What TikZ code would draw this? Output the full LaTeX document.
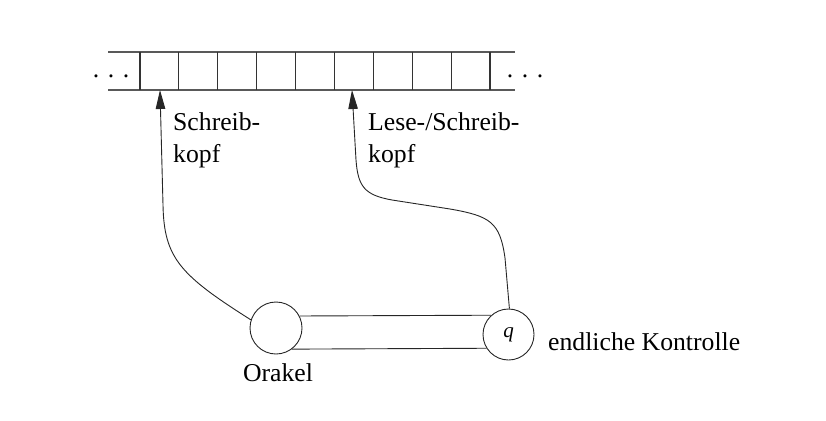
\documentclass[tikz,border=0pt]{standalone}
\usepackage{fontspec}
\setmainfont{Liberation Serif}
\usetikzlibrary{arrows.meta}
\tikzset{
  tapeline/.style={line width=1.1pt, draw=black!65},
  cellline/.style={line width=1.1pt, draw=black!80},
  conn/.style={line width=0.9pt, draw=black!85},
  arr/.style={conn, -{Triangle[length=19pt,width=9.5pt]}},
  state/.style={circle, draw=black!85, line width=0.9pt, inner sep=0pt},
  lbl/.style={font=\fontsize{25.7}{32}\selectfont, inner sep=0pt},
}
\begin{document}
\begin{tikzpicture}[x=1pt,y=-1pt]
\useasboundingbox (0,0) rectangle (826,420);
% tape
\draw[tapeline] (108,52) -- (515,52);
\draw[tapeline] (108,90) -- (515,90);
\foreach \i in {0,...,9} {
  \draw[cellline] ({140+38.89*\i},52) -- ({140+38.89*\i},90);
}
\node[lbl, anchor=base] (dl) at (111,77) {. . .};
\node[lbl, anchor=base] (dr) at (525,77) {. . .};
\coordinate (h1) at (160,90);
\coordinate (h2) at (352,90);
% states
\node[state, minimum size=52pt] (oracle) at (276,328) {};
\node[state, minimum size=51pt, font=\fontsize{21}{25}\selectfont] (ctrl) at (508.5,334.5) {\raisebox{-3pt}{\textit{q}}};
% connections between states
\draw[conn] (oracle.27.5) -- (ctrl.132);
\draw[conn] (oracle.-53.9) -- (ctrl.212);
% arrows to tape
\draw[arr] (oracle.162) .. controls (180,275) and (164,258) .. (163,205) -- (h1);
\draw[arr] (ctrl.88) -- (505,258) .. controls (500,222) and (490,216) .. (450,209) -- (392,200) .. controls (364,195) and (358,186) .. (356,160) -- (h2);
% labels
\node[lbl, anchor=base west, align=left] (l1) at (173,162) {Schreib-\\kopf};
\node[lbl, anchor=base west, align=left] (l2) at (368,162) {Lese-/Schreib-\\kopf};
\node[lbl, anchor=base] (lo) at (278,381) {Orakel};
\node[lbl, anchor=base west] (lc) at (548,350) {endliche Kontrolle};
\end{tikzpicture}
\end{document}
